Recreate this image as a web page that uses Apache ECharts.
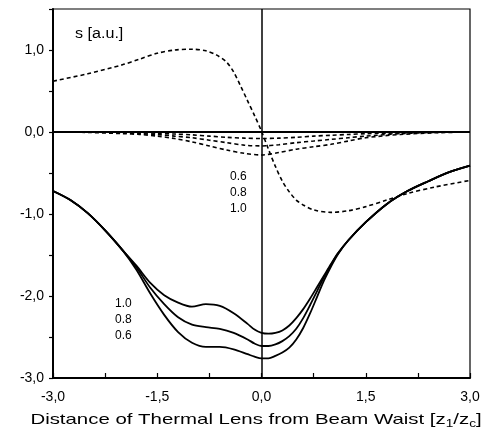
<!DOCTYPE html>
<html lang="en">
<head>
    <meta charset="utf-8">
    <title>s vs distance of thermal lens</title>
    <style>
        html, body { margin: 0; padding: 0; background: #fff; }
        #main { width: 486px; height: 442px; }
    </style>
</head>
<body>
<div id="main"></div>
<script type="text/javascript" src="https://cdn.jsdelivr.net/npm/echarts@6/dist/echarts.min.js"></script>
<script type="text/javascript">
// upper dashed curve
var xUpper = [-3.0, -2.5, -2.0, -1.75, -1.5, -1.25, -1.0, -0.8, -0.65, -0.5, -0.4, -0.3, -0.2, -0.1, 0.0, 0.1, 0.2, 0.3, 0.4, 0.5, 0.6, 0.75, 1.0, 1.25, 1.5, 1.8, 2.1, 2.5, 3.0];
var sUpper = [0.62, 0.71, 0.82, 0.89, 0.96, 1.0, 1.01, 0.99, 0.94, 0.85, 0.73, 0.56, 0.38, 0.2, 0.01, -0.21, -0.42, -0.6, -0.73, -0.83, -0.89, -0.95, -0.98, -0.96, -0.91, -0.83, -0.75, -0.67, -0.59];

// small dashed curves near zero
var xSmall = [-3, -2.5, -2, -1.75, -1.5, -1.25, -1, -0.75, -0.5, -0.25, 0, 0.25, 0.5, 0.75, 1, 1.25, 1.5, 2, 2.5, 3];
var small06 = [0, 0, -0.005, -0.01, -0.015, -0.025, -0.035, -0.05, -0.065, -0.075, -0.08, -0.075, -0.065, -0.05, -0.04, -0.03, -0.02, -0.01, 0, 0];
var small08 = [0, 0, -0.01, -0.02, -0.03, -0.05, -0.07, -0.1, -0.13, -0.16, -0.17, -0.155, -0.13, -0.11, -0.09, -0.07, -0.05, -0.02, -0.005, 0];
var small10 = [0, -0.005, -0.02, -0.03, -0.05, -0.08, -0.12, -0.17, -0.22, -0.26, -0.28, -0.25, -0.21, -0.18, -0.15, -0.11, -0.07, -0.03, -0.01, 0];

// solid curves
var xSolid = [-3.0, -2.75, -2.5, -2.25, -2.0, -1.8, -1.6, -1.4, -1.2, -1.0, -0.8, -0.6, -0.4, -0.2, -0.1, 0.0, 0.1, 0.2, 0.3, 0.4, 0.5, 0.6, 0.7, 0.8, 0.9, 1.0, 1.1, 1.25, 1.5, 1.8, 2.1, 2.4, 2.7, 3.0];
var solid10 = [-0.72, -0.83, -0.99, -1.2, -1.44, -1.63, -1.84, -1.99, -2.08, -2.13, -2.1, -2.12, -2.21, -2.34, -2.41, -2.45, -2.46, -2.45, -2.42, -2.36, -2.27, -2.16, -2.03, -1.89, -1.75, -1.61, -1.48, -1.32, -1.1, -0.88, -0.72, -0.6, -0.49, -0.41];
var solid08 = [-0.72, -0.83, -0.99, -1.2, -1.44, -1.65, -1.9, -2.1, -2.26, -2.35, -2.38, -2.4, -2.45, -2.53, -2.58, -2.61, -2.61, -2.59, -2.55, -2.49, -2.4, -2.27, -2.11, -1.94, -1.77, -1.62, -1.48, -1.32, -1.1, -0.88, -0.72, -0.6, -0.49, -0.41];
var solid06 = [-0.72, -0.83, -0.99, -1.2, -1.44, -1.68, -1.97, -2.23, -2.44, -2.57, -2.62, -2.62, -2.65, -2.71, -2.74, -2.76, -2.76, -2.73, -2.69, -2.63, -2.53, -2.39, -2.21, -2.01, -1.81, -1.64, -1.49, -1.32, -1.1, -0.88, -0.72, -0.6, -0.49, -0.41];

var smallLabels = ['0.6', '0.8', '1.0'];
var solidLabels = ['1.0', '0.8', '0.6'];

function pairs(xs, ys) {
    var out = [];
    for (var i = 0; i < xs.length; i++) {
        out.push([xs[i], ys[i]]);
    }
    return out;
}

function comma(v) {
    if (Math.abs(v) < 1e-9) v = 0;
    return v.toFixed(1).replace('.', ',');
}

var font = '"Liberation Sans", Arial, sans-serif';

function dashed(name, xs, ys) {
    return {
        name: name, type: 'line', data: pairs(xs, ys), smooth: 0.3,
        symbol: 'none', silent: true,
        lineStyle: { color: '#000', width: 1.6, type: [4, 3] }
    };
}
function solid(name, xs, ys) {
    return {
        name: name, type: 'line', data: pairs(xs, ys), smooth: 0.3,
        symbol: 'none', silent: true,
        lineStyle: { color: '#000', width: 1.8 }
    };
}

var series = [
    dashed('upper', xUpper, sUpper),
    dashed('0.6 dashed', xSmall, small06),
    dashed('0.8 dashed', xSmall, small08),
    dashed('1.0 dashed', xSmall, small10),
    solid('1.0', xSolid, solid10),
    solid('0.8', xSolid, solid08),
    solid('0.6', xSolid, solid06)
];
// zero lines
series[0].markLine = {
    silent: true, symbol: ['none', 'none'], label: { show: false },
    data: [
        { yAxis: 0, lineStyle: { color: '#000', type: 'solid', width: 2 } },
        { xAxis: 0, lineStyle: { color: '#000', type: 'solid', width: 1.5 } }
    ]
};

var chart = echarts.init(document.getElementById('main'));
var option = {
    backgroundColor: '#fff',
    animation: false,
    grid: { left: 53, right: 16, top: 9, bottom: 64, show: true, borderColor: '#000', borderWidth: 1.2 },
    xAxis: {
        type: 'value', min: -3, max: 3, interval: 0.75,
        axisLine: { onZero: false, lineStyle: { color: '#000', width: 2 } },
        axisTick: { inside: true, length: 5, lineStyle: { color: '#000', width: 1.2 } },
        splitLine: { show: false },
        axisLabel: {
            color: '#000', fontSize: 14, fontFamily: font, margin: 12,
            formatter: function (v) {
                return Math.abs(v / 1.5 - Math.round(v / 1.5)) < 1e-6 ? comma(v) : '';
            }
        }
    },
    yAxis: {
        type: 'value', min: -3, max: 1.5, interval: 0.5,
        axisLine: { onZero: false, lineStyle: { color: '#000', width: 2 } },
        axisTick: { inside: false, length: 4, lineStyle: { color: '#000', width: 1.2 } },
        splitLine: { show: false },
        axisLabel: {
            color: '#000', fontSize: 14, fontFamily: font, margin: 9,
            formatter: function (v) {
                return Math.abs(v - Math.round(v)) < 1e-6 ? comma(v) : '';
            }
        }
    },
    graphic: [
        {
            type: 'text', x: 75, y: 34, scaleX: 1.15,
            style: { text: 's [a.u.]', font: '14px ' + font, fill: '#000', verticalAlign: 'middle' }
        },
        {
            type: 'text', x: 256, y: 420, scaleX: 1.36,
            style: {
                text: 'Distance of Thermal Lens from Beam Waist [z{sub|1}/z{sub|c}]',
                font: '15px ' + font, fill: '#000', align: 'center', verticalAlign: 'middle',
                rich: { sub: { fontSize: 10, fontFamily: font, fill: '#000', padding: [9, 0, 0, 0] } }
            }
        },
        {
            type: 'text', x: 230, y: 193,
            style: { text: smallLabels.join('\n'), font: '12px ' + font, fill: '#000', lineHeight: 16, verticalAlign: 'middle' }
        },
        {
            type: 'text', x: 115, y: 320,
            style: { text: solidLabels.join('\n'), font: '12px ' + font, fill: '#000', lineHeight: 16, verticalAlign: 'middle' }
        }
    ],
    series: series
};
chart.setOption(option);

window.addEventListener('resize', function () {
    chart.resize();
});
</script>
</body>
</html>
